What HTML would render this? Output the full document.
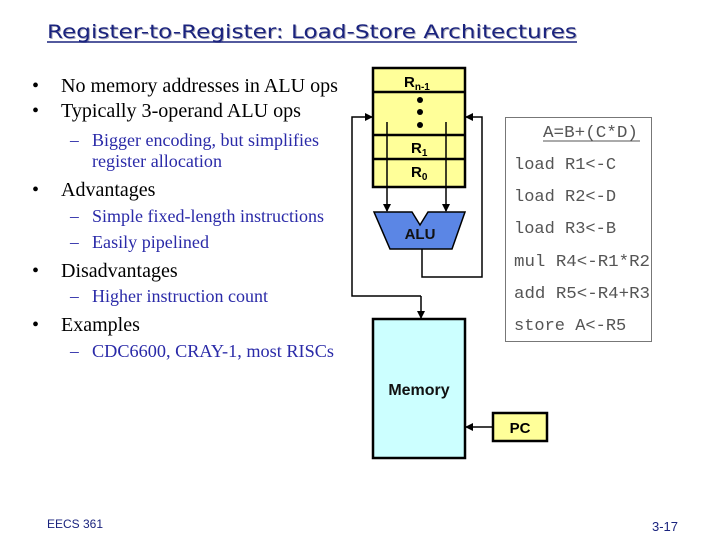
<!DOCTYPE html>
<html><head><meta charset="utf-8"><style>
html,body{margin:0;padding:0;background:#fff;}
svg{display:block;}
</style></head><body>
<svg width="720" height="540" viewBox="0 0 720 540" xmlns="http://www.w3.org/2000/svg">
<defs>
<marker id="ah" markerWidth="8" markerHeight="8" refX="7" refY="4" orient="auto" markerUnits="userSpaceOnUse">
<path d="M0,0 L8,4 L0,8 z" fill="#000"/></marker>
</defs>
<!-- title -->
<text x="48" y="39" font-family="'DejaVu Sans',sans-serif" font-size="19" fill="#aab" textLength="530" lengthAdjust="spacingAndGlyphs">Register-to-Register:  Load-Store Architectures</text>
<text x="47" y="38" font-family="'DejaVu Sans',sans-serif" font-size="19" fill="#1a237e" textLength="530" lengthAdjust="spacingAndGlyphs">Register-to-Register:  Load-Store Architectures</text>
<line x1="47" y1="42" x2="577" y2="42" stroke="#1a237e" stroke-width="1.5"/>
<!-- bullets -->
<g font-family="'Liberation Serif',serif" font-size="20" fill="#000">
<text x="32" y="92">•</text><text x="61" y="92" textLength="277" lengthAdjust="spacingAndGlyphs">No memory addresses in ALU ops</text>
<text x="32" y="117">•</text><text x="61" y="117" textLength="240" lengthAdjust="spacingAndGlyphs">Typically 3-operand ALU ops</text>
<text x="32" y="196">•</text><text x="61" y="196">Advantages</text>
<text x="32" y="277">•</text><text x="61" y="277">Disadvantages</text>
<text x="32" y="331">•</text><text x="61" y="331">Examples</text>
</g>
<g font-family="'Liberation Serif',serif" font-size="17.5" fill="#2a2aa8">
<text x="70" y="146">–</text><text x="92" y="146" textLength="227" lengthAdjust="spacingAndGlyphs">Bigger encoding, but simplifies</text>
<text x="92" y="167" textLength="130" lengthAdjust="spacingAndGlyphs">register allocation</text>
<text x="70" y="222">–</text><text x="92" y="222" textLength="232" lengthAdjust="spacingAndGlyphs">Simple fixed-length instructions</text>
<text x="70" y="248">–</text><text x="92" y="248" textLength="117" lengthAdjust="spacingAndGlyphs">Easily pipelined</text>
<text x="70" y="302">–</text><text x="92" y="302" textLength="176" lengthAdjust="spacingAndGlyphs">Higher instruction count</text>
<text x="70" y="357">–</text><text x="92" y="357" textLength="242" lengthAdjust="spacingAndGlyphs">CDC6600, CRAY-1, most RISCs</text>
</g>
<!-- register file -->
<rect x="373" y="68" width="92" height="119" fill="#ffff99" stroke="#000" stroke-width="2.5"/>
<line x1="373" y1="92" x2="465" y2="92" stroke="#000" stroke-width="2.5"/>
<line x1="373" y1="135" x2="465" y2="135" stroke="#000" stroke-width="2.5"/>
<line x1="373" y1="159" x2="465" y2="159" stroke="#000" stroke-width="2.5"/>
<g font-family="'Liberation Sans',sans-serif" font-weight="bold" font-size="15">
<text x="404" y="87">R<tspan font-size="10" dy="3">n-1</tspan></text>
<text x="411" y="153">R<tspan font-size="10" dy="3">1</tspan></text>
<text x="411" y="177">R<tspan font-size="10" dy="3">0</tspan></text>
</g>
<circle cx="420" cy="100" r="3" fill="#000"/><circle cx="420" cy="112" r="3" fill="#000"/><circle cx="420" cy="125" r="3" fill="#000"/>
<!-- arrows to ALU -->
<line x1="387" y1="122" x2="387" y2="211" stroke="#000" stroke-width="1.5" marker-end="url(#ah)"/>
<line x1="446" y1="122" x2="446" y2="211" stroke="#000" stroke-width="1.5" marker-end="url(#ah)"/>
<!-- ALU -->
<path d="M374,212 L412,212 L420,225 L428,212 L465,212 L452,249 L390,249 Z" fill="#5b86e5" stroke="#000" stroke-width="1.5"/>
<text x="420" y="239" text-anchor="middle" font-family="'Liberation Sans',sans-serif" font-weight="bold" font-size="15" fill="#111">ALU</text>
<!-- feedback -->
<polyline points="422,249 422,277 482,277 482,117 466,117" fill="none" stroke="#000" stroke-width="1.5" marker-end="url(#ah)"/>
<polyline points="421,296 352,296 352,117 372,117" fill="none" stroke="#000" stroke-width="1.5" marker-end="url(#ah)"/>
<line x1="421" y1="296" x2="421" y2="318" stroke="#000" stroke-width="1.5" marker-end="url(#ah)"/>
<!-- memory -->
<rect x="373" y="319" width="92" height="139" fill="#ccffff" stroke="#000" stroke-width="2.5"/>
<text x="419" y="395" text-anchor="middle" font-family="'Liberation Sans',sans-serif" font-weight="bold" font-size="16" fill="#111">Memory</text>
<!-- PC -->
<rect x="493" y="413" width="54" height="28" fill="#ffff99" stroke="#000" stroke-width="2.5"/>
<text x="520" y="433" text-anchor="middle" font-family="'Liberation Sans',sans-serif" font-weight="bold" font-size="15">PC</text>
<line x1="492" y1="427" x2="466" y2="427" stroke="#000" stroke-width="1.5" marker-end="url(#ah)"/>
<!-- code box -->
<rect x="505.5" y="117.5" width="146" height="224" fill="#fff" stroke="#777" stroke-width="1"/>
<g font-family="'Liberation Mono',monospace" font-size="17" fill="#555">
<text x="543" y="137" textLength="95" lengthAdjust="spacingAndGlyphs">A=B+(C*D)</text>
<text x="514" y="169">load R1&lt;-C</text>
<text x="514" y="201">load R2&lt;-D</text>
<text x="514" y="233">load R3&lt;-B</text>
<text x="514" y="266" textLength="136" lengthAdjust="spacingAndGlyphs">mul R4&lt;-R1*R2</text>
<text x="514" y="298" textLength="136" lengthAdjust="spacingAndGlyphs">add R5&lt;-R4+R3</text>
<text x="514" y="330">store A&lt;-R5</text>
</g>
<line x1="543" y1="141" x2="640" y2="141" stroke="#555" stroke-width="1"/>
<!-- footer -->
<text x="47" y="528" font-family="'Liberation Sans',sans-serif" font-size="12" fill="#1a237e" textLength="56" lengthAdjust="spacingAndGlyphs">EECS 361</text>
<text x="652" y="531" font-family="'Liberation Sans',sans-serif" font-size="13" fill="#1a237e">3-17</text>
</svg>
</body></html>
